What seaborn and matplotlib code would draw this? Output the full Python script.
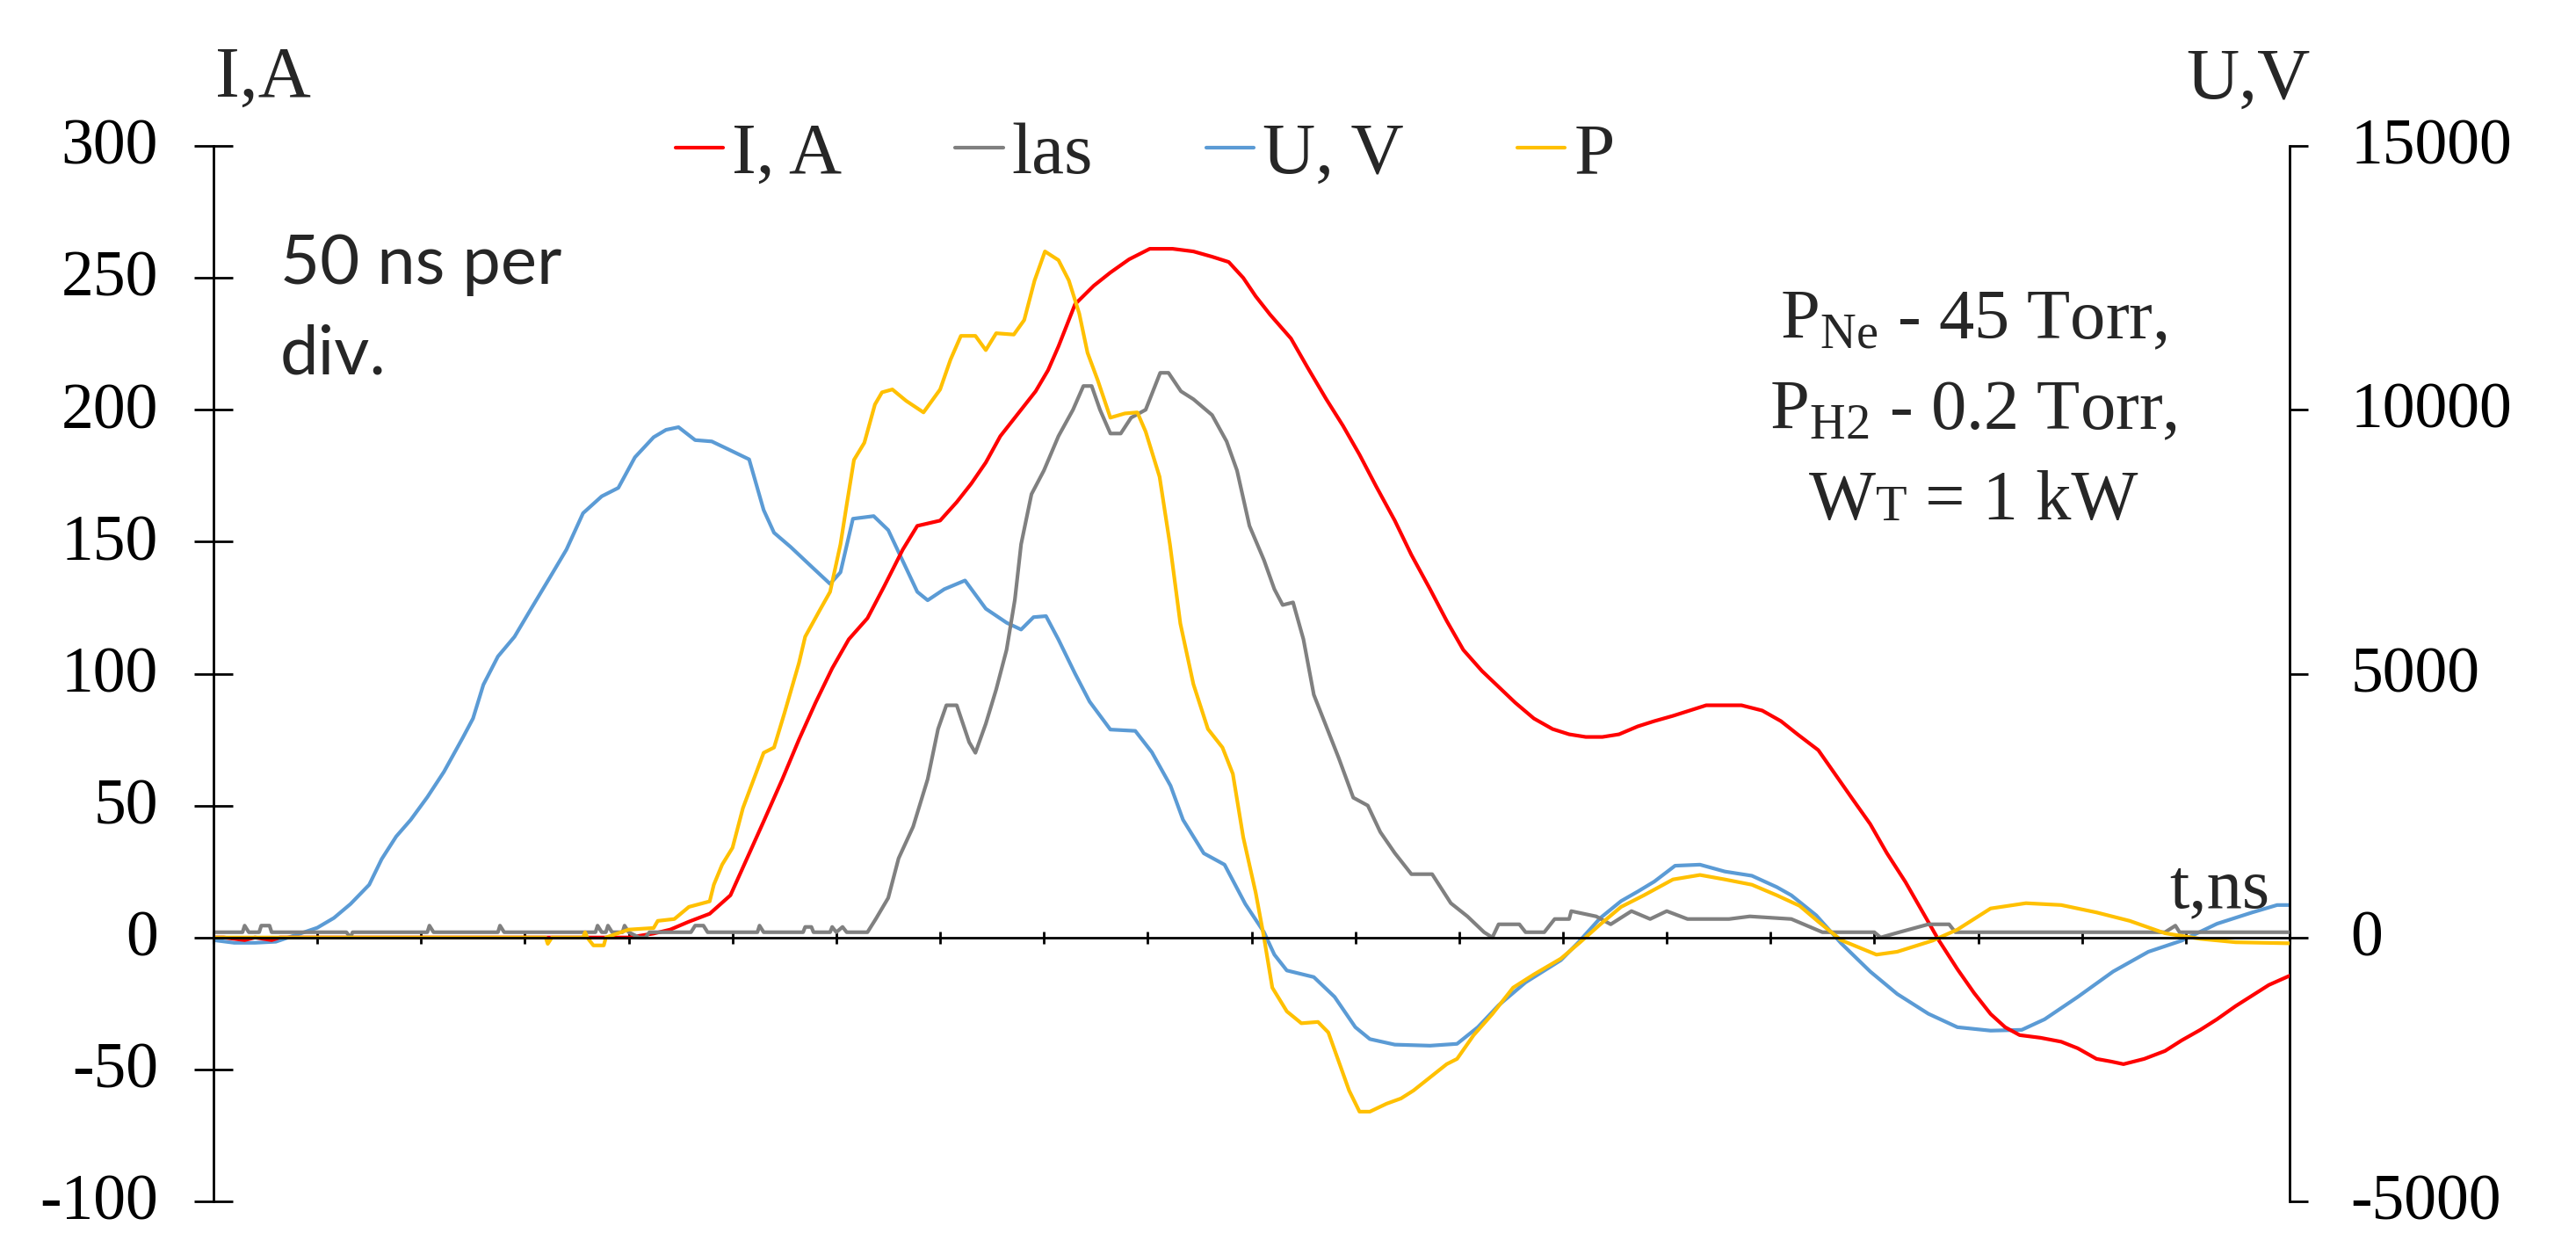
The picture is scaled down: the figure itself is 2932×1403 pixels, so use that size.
import matplotlib
matplotlib.use("Agg")
import matplotlib.pyplot as plt
import matplotlib.transforms as mtransforms
import seaborn as sns
import pandas as pd
from matplotlib.offsetbox import TextArea, HPacker, AnchoredOffsetbox

# ---------------- data (time in ns) ----------------
t_I = [0, 5, 15, 20, 28, 32, 40, 100, 150, 200, 212, 220, 229, 239, 249, 257, 265, 274, 282, 290,
       298, 306, 315, 323, 332, 339, 350, 358, 365, 372, 379, 387, 396, 402, 407, 415, 424, 432, 441, 451,
       462, 472, 481, 489, 496, 502, 509, 519, 527, 536, 544, 552, 560, 569, 577, 586, 594, 602, 611, 619,
       627, 636, 645, 653, 661, 669, 677, 686, 694, 703, 711, 719, 728, 736, 746, 755, 763, 773, 781, 789,
       798, 806, 815, 823, 831, 840, 848, 856, 863, 870, 880, 890, 898, 907, 914, 920, 930, 940, 948, 957,
       965, 974, 982, 990, 1000]
I_A = [0, 0, -1, 0, -1, 0, 0, 0, 0, 0, 1.5, 3, 6, 9, 16, 30, 44, 60, 75, 89,
       102, 113, 121, 133, 147, 156, 158, 165, 172, 180, 190, 198, 207, 215, 224, 240, 247, 252, 257, 261,
       261, 260, 258, 256, 250, 243, 236, 227, 216, 204, 194, 183, 171, 158, 145, 132, 120, 109, 101, 95,
       89, 83, 79, 77, 76, 76, 77, 80, 82, 84, 86, 88, 88, 88, 86, 82, 77, 71, 62, 53,
       43, 32, 21, 10, -1, -12, -21, -29, -34, -37, -38, -39.5, -42, -46, -47, -48, -46, -43, -39, -35,
       -31, -26, -22, -18, -14.5]

t_las = [0, 14, 15, 17, 22, 23, 27, 28, 64, 66, 67, 103, 104, 106, 137, 138, 140, 184, 185, 187,
         189, 190, 192, 197, 198, 200, 205, 208, 210, 230, 232, 236, 238, 262, 263, 265, 284, 285, 288, 289,
         297, 298, 300, 303, 305, 315, 319, 325, 330, 337, 344, 349, 353, 358, 364, 367, 372, 377, 382, 386,
         389, 394, 400, 407, 414, 419, 423, 427, 432, 437, 442, 449, 456, 460, 466, 472, 481, 488, 493, 499,
         506, 511, 515, 520, 525, 530, 536, 542, 549, 556, 562, 569, 577, 587, 596, 604, 612, 616, 619, 629,
         632, 641, 646, 653, 654, 666, 673, 683, 692, 700, 710, 730, 740, 760, 766, 775, 800, 803, 812, 826,
         836, 839, 870, 900, 940, 945, 947, 1000]
las = [2, 2, 4.5, 2, 2, 4.5, 4.5, 2, 2, 0, 2, 2, 4.5, 2, 2, 4.5, 2, 2, 4.5, 2,
       2, 4.5, 2, 2, 4.5, 2, 0, 0, 2, 2, 4.5, 4.5, 2, 2, 4.5, 2, 2, 4, 4, 2,
       2, 4, 2, 4, 2, 2, 7, 15, 30, 42, 60, 79, 88, 88, 74, 70, 81, 94, 109, 128,
       149, 168, 177, 190, 200, 209, 209, 200, 191, 191, 197, 200, 214, 214, 207, 204, 198, 188, 177, 156,
       143, 132, 126, 127, 113, 92, 80, 68, 53, 50, 40, 32, 24, 24, 13, 8, 2, 0, 5, 5,
       2, 2, 7, 7, 10, 8, 5, 10, 7, 10, 7, 7, 8, 7, 5, 2, 2, 0, 2, 5,
       5, 2, 2, 2, 2, 4.5, 2, 2]

t_U = [0, 10, 20, 30, 36, 40, 50, 58, 66, 75, 81, 88, 95, 103, 111, 120, 125, 130, 137, 145,
       153, 162, 170, 178, 187, 195, 203, 212, 218, 224, 232, 240, 248, 258, 265, 270, 278, 288, 297, 302,
       308, 318, 325, 332, 339, 344, 352, 362, 372, 382, 389, 395, 401, 407, 415, 422, 432, 444, 452, 461,
       467, 477, 487, 497, 506, 511, 517, 530, 540, 550, 557, 569, 586, 599, 609, 619, 632, 649, 657, 668,
       678, 686, 694, 704, 716, 728, 741, 753, 760, 772, 784, 798, 811, 826, 840, 856, 871, 882, 898, 915,
       932, 948, 965, 982, 994, 1000]
U_V = [-50, -100, -100, -80, 0, 50, 185, 370, 635, 1000, 1485, 1914, 2230, 2660, 3140, 3780, 4150, 4790, 5325, 5700,
       6230, 6820, 7350, 8040, 8360, 8520, 9100, 9480, 9620, 9670, 9425, 9400, 9250, 9060, 8100, 7670, 7400, 7030, 6700, 6920,
       7935, 7985, 7720, 7135, 6550, 6390, 6600, 6765, 6230, 5965, 5835, 6070, 6090, 5645, 5000, 4470, 3940, 3915, 3510, 2875,
       2230, 1595, 1380, 635, 100, -325, -625, -750, -1125, -1700, -1925, -2030, -2050, -2015, -1700, -1285, -850, -430, -110, 370,
       690, 870, 1060, 1360, 1380, 1250, 1170, 955, 800, 420, -110, -645, -1070, -1445, -1700, -1765, -1750, -1550, -1125, -645,
       -270, -60, 260, 475, 615, 615]

t_P = [0, 100, 160, 161, 163, 178, 179, 180, 183, 188, 189, 200, 212, 214, 222, 229, 239, 241, 245, 250,
       255, 265, 270, 275, 282, 285, 292, 297, 302, 305, 308.5, 313.5, 318.6, 322, 327, 333.6, 342, 350, 355, 360,
       367, 372, 377, 385.5, 390.5, 395.5, 400.5, 407, 412, 417, 421, 426, 432, 439, 445, 449, 455.7, 460.7, 465.7, 472,
       479, 486, 491, 496, 502, 506, 510, 517, 524, 532, 537, 542, 547, 552, 557, 565, 572, 578, 586, 594,
       599, 607, 616, 626, 636, 649, 658, 668, 678, 689, 703, 716, 728, 741, 753, 764, 773, 784, 801, 811,
       828, 840, 856, 873, 890, 907, 923, 940, 957, 974, 1000]
P = [0, 0, 0, -2.4, 0, 0, 2, 0, -3, -3, 0, 3, 3.6, 6.3, 7, 11.6, 13.7, 20, 27.6, 34,
     49, 70, 72, 85, 104, 114, 124, 131, 149, 164, 181, 187.5, 202, 206.6, 207.7, 203.4, 199, 207.7, 219, 228,
     228, 222.6, 229, 228.5, 234, 249, 260, 256.7, 249, 236.5, 221.6, 211, 197, 198.6, 199, 191.7, 174.6, 149, 119, 96,
     79, 72, 62, 38, 17, 0, -19, -28, -32.5, -32, -36, -47, -58, -66, -66, -63, -61, -58, -53, -48,
     -46, -37, -29, -19, -14, -8, -2, 5, 11.6, 16, 22, 23.7, 22, 20, 16, 12, 6, -1, -6.5, -5.4,
     -1.2, 3, 11, 13, 12.3, 9.5, 6.3, 1.6, -0.5, -1.8, -2.2]

labels = ["I, A", "las", "U, V", "P"]
colors = ["#FF0000", "#808080", "#5B9BD5", "#FFC000"]
left_ticks = list(range(-100, 301, 50))
right_ticks = list(range(-5000, 15001, 5000))
x_ticks = list(range(0, 1001, 50))

# ---------------- style ----------------
sns.set_theme(style="white")
plt.rcParams["font.family"] = ["Liberation Serif", "DejaVu Serif"]
plt.rcParams["mathtext.fontset"] = "custom"
plt.rcParams["mathtext.rm"] = "Liberation Serif"
plt.rcParams["mathtext.it"] = "Liberation Serif:italic"
plt.rcParams["axes.unicode_minus"] = False

W, H = 2932, 1403
fig = plt.figure(figsize=(W / 100, H / 100), dpi=100)
fig.patch.set_facecolor("white")
ax = fig.add_axes([243 / W, 1 - 1367 / H, (2606 - 243) / W, (1367 - 166) / H])
ax2 = ax.twinx()

lw = 3.0
df_I = pd.DataFrame({"t": t_I, "v": I_A})
df_las = pd.DataFrame({"t": t_las, "v": las})
df_U = pd.DataFrame({"t": t_U, "v": U_V})
df_P = pd.DataFrame({"t": t_P, "v": P})

sns.lineplot(data=df_U, x="t", y="v", ax=ax2, color=colors[2], linewidth=lw,
             estimator=None, sort=False, label=labels[2], legend=False)
sns.lineplot(data=df_I, x="t", y="v", ax=ax, color=colors[0], linewidth=lw,
             estimator=None, sort=False, label=labels[0], legend=False)
sns.lineplot(data=df_las, x="t", y="v", ax=ax, color=colors[1], linewidth=lw,
             estimator=None, sort=False, label=labels[1], legend=False)
sns.lineplot(data=df_P, x="t", y="v", ax=ax, color=colors[3], linewidth=lw,
             estimator=None, sort=False, label=labels[3], legend=False)

ax.set_zorder(ax2.get_zorder() + 1)
ax.patch.set_visible(False)

ax.set_xlim(0, 1000)
ax.set_ylim(-100, 300)
ax2.set_ylim(-5000, 15000)
ax.set_xticks(x_ticks)
ax.set_yticks(left_ticks)
ax2.set_yticks(right_ticks)
ax.set_xlabel("")
ax.set_ylabel("")
ax2.set_ylabel("")

for a in (ax, ax2):
    for s in a.spines.values():
        s.set_visible(False)
        s.set_linewidth(2.0)
        s.set_color("black")
ax.spines["left"].set_visible(True)
ax.spines["bottom"].set_visible(True)
ax.spines["bottom"].set_position(("data", 0))
ax2.spines["right"].set_visible(True)

ax.tick_params(axis="x", direction="inout", length=10, width=2, color="black",
               bottom=True, labelbottom=False)
ax.tick_params(axis="y", direction="inout", length=31, width=2, color="black",
               left=True, pad=30, labelsize=53, labelcolor="black")
ax2.tick_params(axis="y", direction="out", length=15, width=2, color="black",
                right=True, pad=35, labelsize=53, labelcolor="black")
ax.grid(False)
ax2.grid(False)

# lift tick labels a few pixels (as in the reference)
lift = mtransforms.ScaledTranslation(0, 5 / 100, fig.dpi_scale_trans)
for a in (ax, ax2):
    for lab in a.get_yticklabels():
        lab.set_transform(lab.get_transform() + lift)

# ---------------- legend ----------------
h1, l1 = ax.get_legend_handles_labels()
h2, l2 = ax2.get_legend_handles_labels()
hd = dict(zip(l1 + l2, h1 + h2))
fig.legend([hd[l] for l in labels], labels, loc="center left",
           bbox_to_anchor=(769 / W, 1 - 177 / H), ncol=4, frameon=False,
           fontsize=60, handlelength=0.65, handletextpad=0.12, columnspacing=1.55,
           borderpad=0, borderaxespad=0)

# ---------------- texts ----------------
fig.text(245 / W, 1 - 110 / H, "I,A", fontsize=60, ha="left", va="baseline")
fig.text(2488 / W, 1 - 112 / H, "U,V", fontsize=60, ha="left", va="baseline")
fig.text(2583 / W, 1 - 1032 / H, "t,ns", fontsize=58, ha="right", va="baseline")

fig.text(319 / W, 1 - 323 / H, "50 ns per", fontsize=56, ha="left", va="baseline",
         family=["Lato", "DejaVu Sans"])
fig.text(319 / W, 1 - 425 / H, "div.", fontsize=56, ha="left", va="baseline",
         family=["Lato", "DejaVu Sans"])

cx = 2246 / W
fig.text(cx, 1 - 385 / H, r"P$_{\mathrm{Ne}}$ - 45 Torr,", fontsize=58, ha="center", va="baseline")
fig.text(cx, 1 - 488 / H, r"P$_{\mathrm{H2}}$ - 0.2 Torr,", fontsize=58, ha="center", va="baseline")
box = HPacker(children=[TextArea("W", textprops=dict(fontsize=58)),
                        TextArea("T", textprops=dict(fontsize=42)),
                        TextArea(" = 1 kW", textprops=dict(fontsize=58))],
              align="baseline", pad=0, sep=0)
anch = AnchoredOffsetbox(loc="center", child=box, pad=0, borderpad=0, frameon=False,
                         bbox_to_anchor=(cx, 1 - 572 / H), bbox_transform=fig.transFigure)
fig.add_artist(anch)

fig.savefig("out.png", dpi=100, facecolor="white")
